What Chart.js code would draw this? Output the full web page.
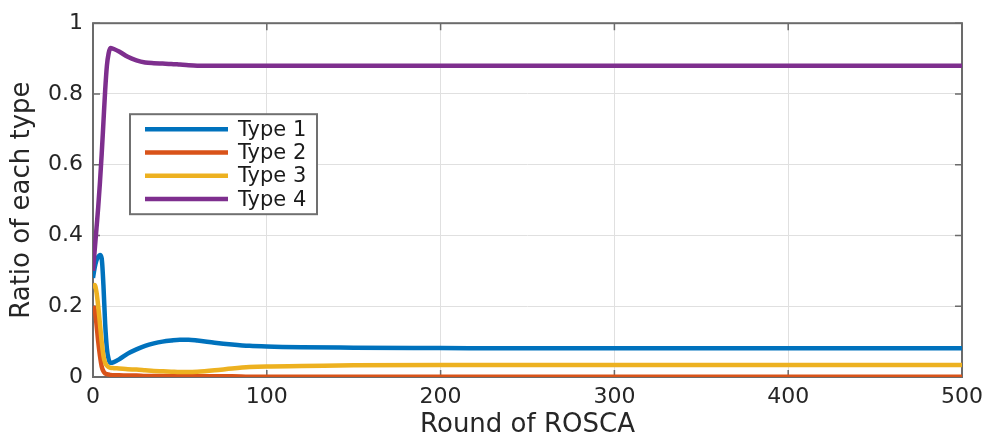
<!DOCTYPE html>
<html>
<head>
<meta charset="utf-8">
<script src="https://cdn.jsdelivr.net/npm/chart.js@4.4.1/dist/chart.umd.min.js"></script>
<style>
  html, body { margin: 0; padding: 0; background: #ffffff; }
  #wrap { width: 990px; height: 441px; position: relative; }
</style>
</head>
<body>
<div id="wrap"><canvas id="chart"></canvas></div>
<script>
// Rounds of ROSCA (x values)
const rounds = [0, 1, 2, 3, 4, 5, 6, 7, 8, 9, 10,
    12, 15, 20, 25, 30, 35, 40, 45, 50, 55, 60,
    70, 80, 90, 100, 120, 150, 200, 250, 300, 350, 400, 450, 500];

const type1 = [0.28, 0.31, 0.33, 0.34, 0.345, 0.335, 0.26, 0.15, 0.08, 0.05, 0.04,
    0.042, 0.05, 0.066, 0.078, 0.088, 0.095, 0.1, 0.103, 0.105, 0.105, 0.103,
    0.097, 0.092, 0.088, 0.086, 0.084, 0.083, 0.082, 0.081, 0.081, 0.081, 0.081, 0.081, 0.081];

const type2 = [0.2, 0.19, 0.15, 0.1, 0.06, 0.03, 0.016, 0.01, 0.008, 0.007, 0.006,
    0.005, 0.005, 0.004, 0.004, 0.003, 0.003, 0.003, 0.002, 0.002, 0.002, 0.002,
    0.002, 0.002, 0.001, 0.001, 0.001, 0.001, 0.001, 0.001, 0.001, 0.001, 0.001, 0.001, 0.001];

const type3 = [0.25, 0.26, 0.24, 0.2, 0.15, 0.1, 0.06, 0.04, 0.032, 0.028, 0.026,
    0.025, 0.024, 0.022, 0.021, 0.019, 0.017, 0.016, 0.015, 0.014, 0.014, 0.015,
    0.019, 0.024, 0.028, 0.03, 0.031, 0.033, 0.034, 0.034, 0.034, 0.034, 0.034, 0.034, 0.034];

const type4 = [0.3, 0.36, 0.42, 0.48, 0.55, 0.63, 0.72, 0.81, 0.88, 0.915, 0.93,
    0.927, 0.92, 0.905, 0.895, 0.889, 0.887, 0.886, 0.885, 0.883, 0.881, 0.88,
    0.88, 0.88, 0.88, 0.88, 0.88, 0.88, 0.88, 0.88, 0.88, 0.88, 0.88, 0.88, 0.88];

const seriesNames = ['Type 1', 'Type 2', 'Type 3', 'Type 4'];
const seriesValues = [type1, type2, type3, type4];
const xTickValues = [0, 100, 200, 300, 400, 500];
const yTickValues = [0, 0.2, 0.4, 0.6, 0.8, 1];

// MATLAB default line colours
const COLORS = ['#0072BD', '#D95319', '#EDB120', '#7E2F8E'];
const FONT = "'DejaVu Sans', sans-serif";
const AXIS_GRAY = '#6b6b6b';

const datasets = seriesValues.map((vals, i) => ({
    label: seriesNames[i],
    data: rounds.map((r, j) => ({ x: r, y: vals[j] })),
    borderColor: COLORS[i],
    backgroundColor: COLORS[i],
    borderWidth: 4.5,
    pointRadius: 0,
    cubicInterpolationMode: 'monotone',
    order: seriesValues.length - i,   // Type 4 drawn on top, as in MATLAB
}));

// box around axes + inward tick marks (under the lines), legend inside the plot (over them)
const matlabFrame = {
    id: 'matlabFrame',
    beforeDatasetsDraw(chart) {
        const { ctx, chartArea: a, scales: { x, y } } = chart;
        ctx.save();
        ctx.strokeStyle = AXIS_GRAY;
        ctx.lineWidth = 1.5;
        ctx.beginPath();
        xTickValues.forEach(v => {
            const px = x.getPixelForValue(v);
            ctx.moveTo(px, a.bottom); ctx.lineTo(px, a.bottom - 7);
            ctx.moveTo(px, a.top); ctx.lineTo(px, a.top + 7);
        });
        yTickValues.forEach(v => {
            const py = y.getPixelForValue(v);
            ctx.moveTo(a.left, py); ctx.lineTo(a.left + 7, py);
            ctx.moveTo(a.right, py); ctx.lineTo(a.right - 7, py);
        });
        ctx.stroke();
        ctx.lineWidth = 2;
        ctx.strokeRect(a.left, a.top, a.right - a.left, a.bottom - a.top);
        ctx.restore();
    },
    afterDatasetsDraw(chart) {
        const { ctx, chartArea: a } = chart;
        ctx.save();
        const lx = a.left + 37, ly = a.top + 91, lw = 187, lh = 100;
        ctx.fillStyle = '#ffffff';
        ctx.fillRect(lx, ly, lw, lh);
        ctx.strokeStyle = '#707070';
        ctx.lineWidth = 2;
        ctx.strokeRect(lx, ly, lw, lh);
        ctx.font = '21px ' + FONT;
        ctx.textBaseline = 'middle';
        ctx.textAlign = 'left';
        seriesNames.forEach((name, i) => {
            const ry = ly + 15 + i * 23.3;
            ctx.strokeStyle = COLORS[i];
            ctx.lineWidth = 4.5;
            ctx.beginPath();
            ctx.moveTo(lx + 15, ry);
            ctx.lineTo(lx + 98, ry);
            ctx.stroke();
            ctx.fillStyle = '#1a1a1a';
            ctx.fillText(name, lx + 108, ry + 1);
        });
        ctx.restore();
    },
};

new Chart(document.getElementById('chart'), {
    type: 'line',
    data: { datasets },
    options: {
        responsive: true,
        maintainAspectRatio: false,
        animation: false,
        layout: { padding: { left: 0, right: 27, top: 21, bottom: 0 } },
        plugins: {
            legend: { display: false },
            tooltip: { enabled: false },
        },
        scales: {
            x: {
                type: 'linear',
                min: 0,
                max: 500,
                ticks: { stepSize: 100, color: '#262626', font: { family: FONT, size: 22 }, padding: 7, maxRotation: 0 },
                grid: { color: '#e0e0e0', lineWidth: 1, drawTicks: false },
                border: { display: false },
                title: {
                    display: true,
                    text: 'Round of ROSCA',
                    color: '#262626',
                    font: { family: FONT, size: 26 },
                    padding: { top: 0, bottom: 0 },
                },
                afterFit(scale) { scale.height = 64; },
            },
            y: {
                min: 0,
                max: 1,
                ticks: {
                    stepSize: 0.2,
                    color: '#262626',
                    font: { family: FONT, size: 22 },
                    padding: 10,
                    callback: v => String(+v.toFixed(1)),
                },
                grid: { color: '#e0e0e0', lineWidth: 1, drawTicks: false },
                border: { display: false },
                title: {
                    display: true,
                    text: 'Ratio of each type',
                    color: '#262626',
                    font: { family: FONT, size: 26 },
                    padding: { top: 7, bottom: 0 },
                },
                afterFit(scale) { scale.width = 93; },
            },
        },
    },
    plugins: [matlabFrame],
});
</script>
</body>
</html>
